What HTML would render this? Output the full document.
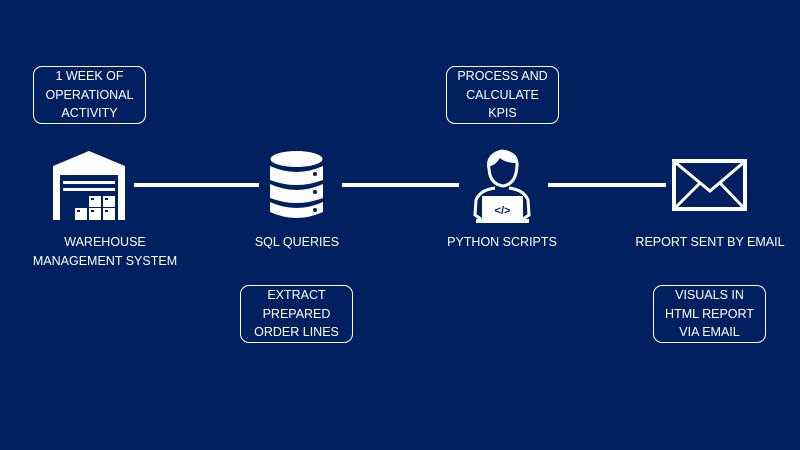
<!DOCTYPE html>
<html><head><style>
body{margin:0;width:800px;height:450px;background:#002060;overflow:hidden;position:relative;font-family:"Liberation Sans",sans-serif;color:#fff}
.t{position:absolute;text-align:center;font-size:12.5px;line-height:19px;white-space:nowrap}
.b{position:absolute;border:1.3px solid #fff;border-radius:9px;box-sizing:border-box;display:flex;align-items:center;justify-content:center;text-align:center;font-size:12.5px;line-height:18.5px}
.l{position:absolute;height:4px;background:#fff}
</style></head><body>
<div class="b" style="left:33px;top:66px;width:113px;height:58px">1 WEEK OF<br>OPERATIONAL<br>ACTIVITY</div>
<div class="b" style="left:446px;top:66px;width:113px;height:58px">PROCESS AND<br>CALCULATE<br>KPIS</div>
<div class="b" style="left:240px;top:285px;width:113px;height:58px">EXTRACT<br>PREPARED<br>ORDER LINES</div>
<div class="b" style="left:653px;top:285px;width:113px;height:58px">VISUALS IN<br>HTML REPORT<br>VIA EMAIL</div>
<div class="l" style="left:134px;top:183px;width:125px"></div>
<div class="l" style="left:342px;top:183px;width:117px"></div>
<div class="l" style="left:548px;top:183px;width:118px"></div>
<div class="t" style="left:5px;width:200px;top:233px">WAREHOUSE<br>MANAGEMENT SYSTEM</div>
<div class="t" style="left:197px;width:200px;top:233px">SQL QUERIES</div>
<div class="t" style="left:402px;width:200px;top:233px">PYTHON SCRIPTS</div>
<div class="t" style="left:610px;width:200px;top:233px">REPORT SENT BY EMAIL</div>
<svg width="800" height="450" style="position:absolute;left:0;top:0">
<g fill="#fff">
<path d="M53 166 L89 151 L125 166 L125 220 L118 220 L118 175 L60 175 L60 220 L53 220Z"/>
<rect x="63" y="181" width="52" height="3"/><rect x="63" y="188" width="52" height="3"/>
<rect x="89" y="196" width="12" height="11"/><rect x="103" y="196" width="12" height="11"/>
<rect x="75" y="208" width="12" height="12"/><rect x="89" y="208" width="12" height="12"/><rect x="103" y="208" width="12" height="12"/>
</g>
<g fill="#002060"><rect x="91" y="198" width="3" height="2"/><rect x="105" y="198" width="3" height="2"/><rect x="77" y="210" width="3" height="2"/><rect x="91" y="210" width="3" height="2"/><rect x="105" y="210" width="3" height="2"/></g>
<g fill="#fff">
<ellipse cx="296.5" cy="159" rx="26" ry="8"/>
<path d="M270 166 Q296.5 178 323 166 L323 180 Q296.5 190 270 180Z"/>
<path d="M270 184 Q296.5 196 323 184 L323 198 Q296.5 208 270 198Z"/>
<path d="M270 202 Q296.5 214 323 202 L323 212 Q296.5 224 270 212Z"/>
</g>
<g fill="#002060"><circle cx="315" cy="174" r="2"/><circle cx="315" cy="192" r="2"/><circle cx="315" cy="210" r="2"/></g>
<g stroke="#fff" fill="none" stroke-width="3">
<path d="M489 169 Q486 155 502 151 Q518 153 517 166 Q516 184 503 186 Q490 184 489 169Z"/>
<path d="M495 188 Q480 190 476 200 L475 215 L481 219 M509 188 Q524 190 528 200 L529 215 L523 219"/>
</g>
<path d="M488 167 Q490 153 502 151 Q516 152 517 163 Q505 163 500 158 Q496 165 488 167Z" fill="#fff"/>
<rect x="482" y="196" width="41" height="25" fill="#fff"/>
<rect x="476" y="219" width="53" height="4" fill="#fff"/>
<text x="502.5" y="214" fill="#002060" font-size="11" font-weight="bold" text-anchor="middle" font-family="Liberation Sans">&lt;/&gt;</text>
<rect x="674" y="161" width="71" height="48" fill="none" stroke="#fff" stroke-width="4"/>
<path d="M676 163 L710 191 L743 163 M676 207 L700 183 M743 207 L720 183" stroke="#fff" stroke-width="3" fill="none"/>
</svg>
</body></html>
